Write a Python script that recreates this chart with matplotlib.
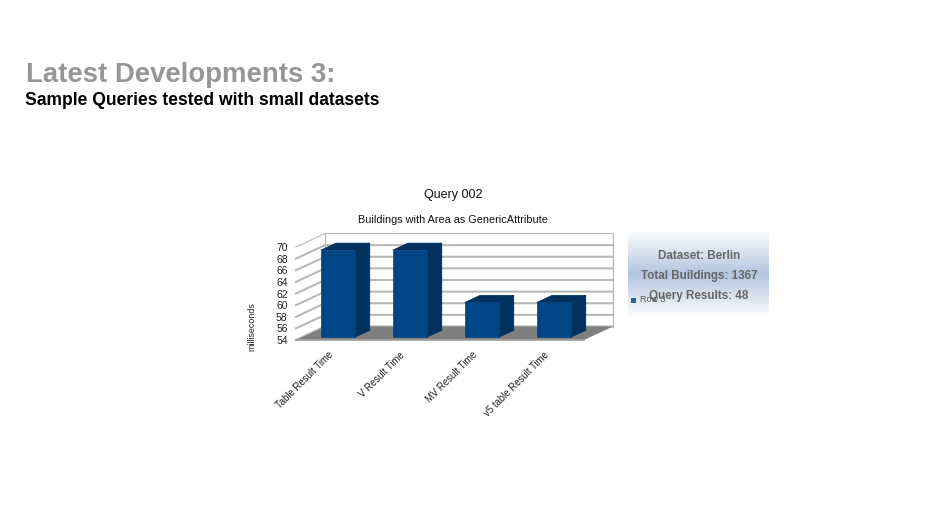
import matplotlib
matplotlib.use('Agg')
import matplotlib.pyplot as plt
import numpy as np
from matplotlib.patches import Polygon, Rectangle

plt.rcParams['font.family'] = ['Liberation Sans', 'DejaVu Sans']

categories = ['Table Result Time', 'V Result Time', 'MV Result Time', 'v5 table Result Time']
values = [69, 69, 60, 60]
yticks = [54, 56, 58, 60, 62, 64, 66, 68, 70]
info_lines = ['Dataset: Berlin', 'Total Buildings: 1367', 'Query Results: 48']

W, H = 943, 530
fig = plt.figure(figsize=(W / 100, H / 100), dpi=100)

# axes box = front plane of the 3d chart, in pixels
left, right, top, bottom = 296, 584, 247, 340
ax = fig.add_axes([left / W, 1 - bottom / H, (right - left) / W, (bottom - top) / H])
ax.set_xlim(0, 4)
ax.set_ylim(54, 70)
ax.patch.set_visible(False)
for s in ax.spines.values():
    s.set_visible(False)

# depth of the box in data units (29 px across, 13.5 px up)
ddx = 29 / ((right - left) / 4)
ddy = 13.5 / ((bottom - top) / 16)


def pt(x, v, d):
    return (x + d * ddx, v + d * ddy)


# walls and grid
ax.fill([pt(0, 54, 0)[0], pt(0, 54, 1)[0], pt(4, 54, 1)[0], pt(4, 54, 0)[0]],
        [pt(0, 54, 0)[1], pt(0, 54, 1)[1], pt(4, 54, 1)[1], pt(4, 54, 0)[1]],
        color='#7f7f7f', lw=0, clip_on=False, zorder=2)
for v in yticks:
    a, b, c = pt(0, v, 0), pt(0, v, 1), pt(4, v, 1)
    lw = 0.8 if v == 70 else 1.5
    ax.plot([a[0], b[0], c[0]], [a[1], b[1], c[1]], color='#b8b8b8', lw=lw,
            clip_on=False, zorder=1, solid_joinstyle='miter')
a, b = pt(0, 54, 1), pt(0, 70, 1)
ax.plot([a[0], b[0]], [a[1], b[1]], color='#b3b3b3', lw=0.8, clip_on=False, zorder=1)
a, b = pt(4, 54, 1), pt(4, 70, 1)
ax.plot([a[0], b[0]], [a[1], b[1]], color='#b3b3b3', lw=0.8, clip_on=False, zorder=1)
ax.plot([0, 4], [54, 54], color='#a0a0a0', lw=1.2, clip_on=False, zorder=3)

# bars
bar_w = 0.47
d0, d1 = 0.2, 0.72
for i, v in enumerate(values):
    x0 = i + 0.5 - bar_w / 2
    x1 = i + 0.5 + bar_w / 2
    front = [pt(x0, 54, d0), pt(x1, 54, d0), pt(x1, v, d0), pt(x0, v, d0)]
    side = [pt(x1, 54, d0), pt(x1, 54, d1), pt(x1, v, d1), pt(x1, v, d0)]
    lid = [pt(x0, v, d0), pt(x1, v, d0), pt(x1, v, d1), pt(x0, v, d1)]
    ax.add_patch(Polygon(side, fc='#00305c', ec='#00305c', lw=0.5, clip_on=False, zorder=4))
    ax.add_patch(Polygon(lid, fc='#00305c', ec='#00305c', lw=0.5, clip_on=False, zorder=4,
                         joinstyle='round'))
    ax.add_patch(Polygon(front, fc='#004586', ec='#004586', lw=0.5, clip_on=False, zorder=5))

ax.set_yticks(yticks)
ax.tick_params(axis='y', length=0, pad=6, labelsize=7.5, labelcolor='#222222')
ax.set_xticks(np.arange(4) + 0.5)
ax.set_xticklabels([])
ax.tick_params(axis='x', length=0)
for i, c in enumerate(categories):
    ax.annotate(c, (i + 0.5, 54), xytext=(-4, -10), textcoords='offset pixels',
                rotation=45, ha='right', va='top', rotation_mode='anchor',
                fontsize=6.9, color='#222222')

# text in pixel positions
fig.text(26 / W, 1 - 75 / H, 'Latest Developments 3:', fontsize=19.8, fontweight='bold',
         color='#969696', va='center')
fig.text(25 / W, 1 - 100.5 / H, 'Sample Queries tested with small datasets', fontsize=12.65,
         fontweight='bold', color='black', va='center')
fig.text(453 / W, 1 - 195 / H, 'Query 002', fontsize=9, color='#111111', ha='center', va='center')
fig.text(453 / W, 1 - 220 / H, 'Buildings with Area as GenericAttribute', fontsize=7.8,
         color='#111111', ha='center', va='center')
fig.text(251.5 / W, 1 - 326.5 / H, 'milliseconds', fontsize=6.4, color='#222222', rotation=90,
         ha='center', va='center')

# info panel with vertical gradient
pax = fig.add_axes([628 / W, 1 - 318 / H, 141 / W, 88 / H])
white = np.array([1.0, 1.0, 1.0])
blue = np.array([0.70, 0.77, 0.87])
t = np.linspace(0, 1, 88)
ramp = 1 - np.abs(2 * t - 1)
grad = (white[None, :] * (1 - ramp[:, None]) + blue[None, :] * ramp[:, None])[:, None, :]
pax.imshow(grad, aspect='auto', extent=[0, 1, 0, 1])
pax.axis('off')

# legend of the chart shows through under the panel text
fig.patches.append(Rectangle((631 / W, 1 - 303 / H), 5 / W, 5 / H, transform=fig.transFigure,
                             fc='#2f5f9f', ec='none'))
fig.text(640 / W, 1 - 300 / H, 'Row 3', fontsize=6.5, color='#555555', va='center')

for line, y in zip(info_lines, [255, 275, 295]):
    fig.text(699 / W, 1 - (y + 0.5) / H, line, fontsize=8.4, fontweight='bold', color='#666666',
             ha='center', va='center')

fig.savefig('out.png', dpi=100)
